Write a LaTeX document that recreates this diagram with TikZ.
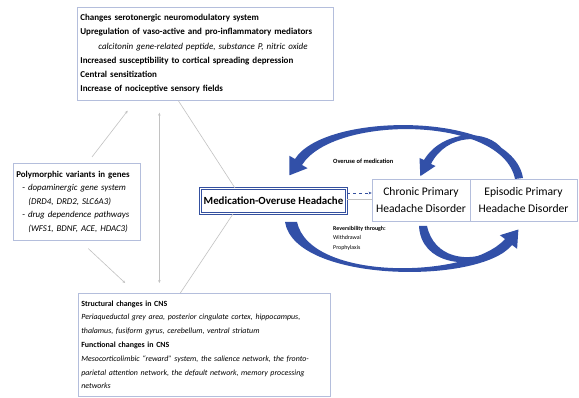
\documentclass[tikz,border=0pt]{standalone}
\usepackage{fontspec}
\setmainfont{Carlito}
\usetikzlibrary{arrows.meta}
\definecolor{boxline}{HTML}{B4BEDC}
\definecolor{mohblue}{HTML}{34509F}
\definecolor{arcblue}{HTML}{3250A8}
\definecolor{linkgray}{HTML}{C2C2C2}

\begin{document}
\begin{tikzpicture}[x=1pt, y=-1pt,
    infobox/.style={draw=boxline, line width=0.7pt, fill=white, anchor=north west, align=left, inner xsep=3pt, inner ysep=3pt},
    diagbox/.style={draw=boxline, line width=0.7pt, fill=white, minimum height=42pt, align=center, font=\fontsize{11.6}{17}\selectfont},
    mohbox/.style={draw=mohblue, line width=0.9pt, double=white, double distance=1.1pt, minimum width=146pt, minimum height=25pt, font=\bfseries\fontsize{10.9}{13}\selectfont},
    arclabel/.style={anchor=north west, align=left, inner sep=1pt},
    link/.style={draw=linkgray, line width=0.6pt},
    tip/.tip={Stealth[length=3pt,width=2.6pt]},
    linkarrow/.style={link, -tip}]
  \fill[white] (0,0) rectangle (579,398);
  \useasboundingbox (0,0) rectangle (579,398);

  % text boxes
  \node[infobox, text width=250pt, minimum height=93pt, font=\fontsize{9}{14.2}\selectfont] (mech) at (77,7) {%
    \textbf{Changes serotonergic neuromodulatory system}\\
    \textbf{Upregulation of vaso-active and pro-inflammatory mediators}\\
    \hspace*{18pt}\textit{calcitonin gene-related peptide, substance P, nitric oxide}\\
    \textbf{Increased susceptibility to cortical spreading depression}\\
    \textbf{Central sensitization}\\
    \textbf{Increase of nociceptive sensory fields}};
  \node[infobox, text width=121pt, minimum height=77pt, font=\fontsize{8.9}{13.6}\selectfont] (genes) at (13,163) {%
    \textbf{Polymorphic variants in genes}\\
    \hspace*{6pt}- \textit{dopaminergic gene system}\\
    \hspace*{12pt}\textit{(DRD4, DRD2, SLC6A3)}\\
    \hspace*{6pt}- \textit{drug dependence pathways}\\
    \hspace*{12pt}\textit{(WFS1, BDNF, ACE, HDAC3)}};
  \node[infobox, text width=246pt, minimum height=103pt, font=\fontsize{7.9}{13.8}\selectfont] (cns) at (78,293) {%
    \textbf{Structural changes in CNS}\\
    \textit{Periaqueductal grey area, posterior cingulate cortex, hippocampus,}\\
    \textit{thalamus, fusiform gyrus, cerebellum, ventral striatum}\\
    \textbf{Functional changes in CNS}\\
    \textit{Mesocorticolimbic ``reward'' system, the salience network, the fronto-}\\
    \textit{parietal attention network, the default network, memory processing}\\
    \textit{networks}};

  % headache boxes
  \node[mohbox] (moh) at (273.5,201) {Medication-Overuse Headache};
  \node[diagbox, minimum width=98pt] (chronic) at (421,200) {Chronic Primary\\Headache Disorder};
  \node[diagbox, minimum width=107pt] (episodic) at (523.5,200) {Episodic Primary\\Headache Disorder};

  % gray links
  \draw[linkarrow, shorten <=7.6pt, shorten >=12.6pt] ([xshift=10.5pt]genes.north) -- ([xshift=-70pt]mech.south);
  \draw[link, tip-tip, shorten <=12pt, shorten >=10pt] ([xshift=-46pt]mech.south) -- ([xshift=-45pt]cns.north);
  \draw[linkarrow, shorten <=11.6pt, shorten >=14.6pt] ([xshift=3pt]genes.south) -- ([xshift=-68.5pt]cns.north);
  \draw[link] ([xshift=-27pt]mech.south) -- ([xshift=-38.5pt]moh.north);
  \draw[link] ([xshift=-40.5pt]moh.south) -- ([xshift=-24pt]cns.north);
  \draw[mohblue, dashed, line width=0.6pt, -tip] ([yshift=8pt]moh.east) -- ([yshift=8pt]moh.east -| chronic.west);
  \draw[link] ([yshift=2pt]moh.east) -- ([yshift=2pt]moh.east -| chronic.west);

  % curved arrows
  \fill[arcblue] (523,178) .. controls (512,111) and (325,111) .. (295,159)
    -- (289.4,155.8) -- (289.5,175.3) -- (307.6,168.2) -- (302,165)
    .. controls (333,115) and (502,115) .. (515,179) -- cycle;
  \fill[arcblue] (503,150) .. controls (488,128) and (442,130) .. (424,160)
    -- (419.5,158) -- (420.3,176.2) -- (435.5,166) -- (431,164)
    .. controls (446,134) and (486,132) .. (503,153) -- cycle;
  \fill[arcblue] (285,222) .. controls (295,283) and (480,285) .. (512,245)
    -- (517.1,248.8) -- (518.4,229.5) -- (499.9,235.2) -- (505,239)
    .. controls (470,279) and (310,282) .. (297,222) -- cycle;
  \fill[arcblue] (419,226) .. controls (421,264) and (468,270) .. (498,254)
    -- (495,250) .. controls (468,264) and (434,258) .. (427,226) -- cycle;

  \node[arclabel, font=\bfseries\fontsize{6.4}{7}\selectfont] (overuse) at (332,158) {Overuse of medication};
  \node[arclabel, font=\fontsize{5.9}{9.5}\selectfont] (revers) at (332,225) {\textbf{Reversibility through:}\\Withdrawal\\Prophylaxis};
\end{tikzpicture}
\end{document}
